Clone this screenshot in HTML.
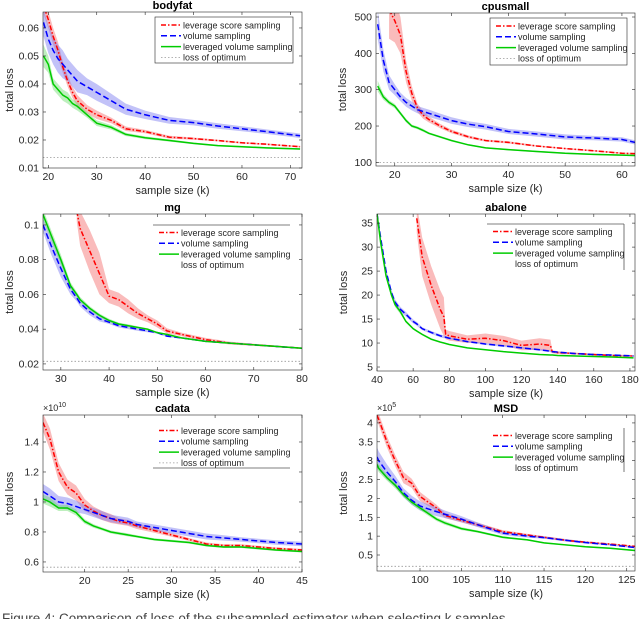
<!DOCTYPE html>
<html><head><meta charset="utf-8">
<style>
html,body{margin:0;padding:0;background:#fff;}
svg{display:block;font-family:"Liberation Sans",sans-serif;}
</style></head>
<body>
<svg id="fig" width="640" height="619" viewBox="0 0 640 619" xmlns="http://www.w3.org/2000/svg">
<text x="2" y="623" font-size="13.5" fill="#444">Figure 4: Comparison of loss of the subsampled estimator when selecting k samples</text>
</svg>
<script>
// ---- bodyfat ----
const bfX   = [19,20,21,22,23,24,25,26,28,30,33,36,40,45,50,55,60,65,72];
const bfLev = [0.068,0.063,0.057,0.052,0.046,0.041,0.037,0.034,0.031,0.029,0.027,0.024,0.023,0.021,0.0205,0.0198,0.019,0.0185,0.0176];
const bfVol = [0.062,0.056,0.052,0.049,0.047,0.045,0.043,0.041,0.039,0.037,0.034,0.031,0.029,0.027,0.0262,0.025,0.024,0.023,0.0215];
const bfLvs = [0.050,0.047,0.040,0.038,0.036,0.035,0.033,0.032,0.029,0.026,0.0245,0.022,0.0208,0.0198,0.0188,0.018,0.0176,0.0172,0.0168];
const bfLevB = [0.003,0.003,0.003,0.003,0.002,0.002,0.002,0.002,0.0015,0.0015,0.001,0.0008,0.0006,0.0005,0.0004,0.0003,0.0003,0.0003,0.0003];
const bfVolB = [0.005,0.005,0.005,0.005,0.005,0.004,0.004,0.004,0.003,0.003,0.0025,0.002,0.0015,0.0012,0.001,0.001,0.0009,0.0008,0.0008];
const bfLvsB = [0.004,0.003,0.002,0.002,0.002,0.002,0.0015,0.0015,0.001,0.001,0.0008,0.0006,0.0005,0.0004,0.0003,0.0003,0.0003,0.0003,0.0003];
const bfOpt = 0.0138;
const bfXTicks = [20,30,40,50,60,70];
const bfYTicks = [0.01,0.02,0.03,0.04,0.05,0.06];
// ---- cpusmall ----
const cpX   = [17,18,19,20,21,22,23,24,25,26,28,30,33,36,40,45,50,55,60,62.3];
const cpLev = [null,null,520,490,450,350,290,250,230,218,200,185,170,160,155,145,138,132,125,124];
const cpVol = [480,380,320,300,280,265,255,245,240,235,225,215,205,198,185,178,170,167,163,155];
const cpLvs = [310,280,265,255,235,215,200,195,188,180,170,160,148,140,135,130,125,122,120,119];
const cpLevB = [0,0,80,60,50,30,20,12,10,8,6,5,4,3,3,2,2,2,2,2];
const cpVolB = [40,30,20,15,12,12,12,10,10,10,9,9,8,8,7,7,7,6,6,6];
const cpLvsB = [15,8,6,6,5,5,4,4,4,3,3,3,2,2,2,2,2,2,2,2];
const cpOpt = 100;
const cpXTicks = [20,30,40,50,60];
const cpYTicks = [100,200,300,400,500];
// ---- mg ----
const mgX   = [26.3,28,30,32,33.3,34,36,38,40,42,44,46,48,50,52,55,60,65,70,75,80];
const mgLev = [null,null,null,null,0.108,0.098,0.085,0.072,0.059,0.057,0.053,0.049,0.046,0.043,0.039,0.037,0.034,0.032,0.031,0.030,0.029];
const mgVol = [0.100,0.088,0.075,0.063,0.058,0.055,0.050,0.046,0.044,0.042,0.041,0.040,0.039,0.038,0.036,0.035,0.033,0.032,0.031,0.030,0.029];
const mgLvs = [0.106,0.094,0.080,0.065,0.060,0.057,0.052,0.048,0.045,0.043,0.042,0.041,0.040,0.038,0.037,0.035,0.033,0.032,0.031,0.030,0.029];
const mgLevB = [0,0,0,0,0.006,0.01,0.012,0.012,0.004,0.004,0.004,0.003,0.002,0.002,0.0015,0.001,0.001,0.0008,0.0006,0.0005,0.0005];
const mgVolB = [0.004,0.005,0.005,0.003,0.002,0.002,0.002,0.0015,0.001,0.001,0.001,0.001,0.0008,0.0006,0.0005,0.0005,0.0004,0.0004,0.0003,0.0003,0.0003];
const mgLvsB = [0.003,0.003,0.003,0.002,0.0015,0.0015,0.0012,0.001,0.001,0.0008,0.0008,0.0006,0.0005,0.0005,0.0004,0.0004,0.0003,0.0003,0.0003,0.0003,0.0003];
const mgOpt = 0.0215;
const mgXTicks = [30,40,50,60,70,80];
const mgYTicks = [0.02,0.04,0.06,0.08,0.1];
// ---- abalone ----
const abX   = [40,42,45,48,50,53,56,60,62,65,70,75,77,78,80,90,100,110,120,130,136,137,140,150,160,170,182];
const abLev = [null,null,null,null,null,null,null,null,36,28,22,17,15.5,11.8,11.5,10.8,11,10.5,9.5,9.8,9.5,8.2,8,7.8,7.6,7.4,7.3];
const abVol = [37,32,25,20.5,18.5,17,16,14.5,14,13,12.2,11.5,11.3,11.2,11,10.3,9.8,9.4,9,8.6,8.3,8.2,8.1,7.8,7.6,7.5,7.3];
const abLvs = [37,31,24,20,18,16.5,14.5,13,12.5,11.8,10.8,10.2,10,9.9,9.7,9,8.6,8.2,7.9,7.6,7.5,7.5,7.4,7.3,7.2,7.1,6.9];
const abLevB = [0,0,0,0,0,0,0,0,3,4,4,4,4,1,1,0.8,1,1,1,1.2,1.2,0.3,0.3,0.2,0.2,0.2,0.2];
const abVolB = [0.4,0.5,0.5,0.6,0.6,0.5,0.5,0.4,0.4,0.3,0.3,0.3,0.3,0.2,0.2,0.2,0.2,0.2,0.2,0.2,0.2,0.2,0.1,0.1,0.1,0.1,0.1];
const abLvsB = [0.3,0.3,0.4,0.5,0.5,0.5,0.3,0.2,0.2,0.2,0.2,0.2,0.1,0.1,0.1,0.1,0.1,0.1,0.1,0.1,0.1,0.1,0.1,0.1,0.1,0.1,0.1];
const abOpt = 3;
const abXTicks = [40,60,80,100,120,140,160,180];
const abYTicks = [5,10,15,20,25,30,35];
// ---- cadata ----
const caX   = [15.2,16,17,18,19,20,21,22,23,24,25,26,28,30,32,34,36,38,40,42,45];
const caLev = [1.53,1.42,1.20,1.10,1.06,0.98,0.94,0.91,0.89,0.87,0.86,0.84,0.81,0.78,0.75,0.72,0.71,0.71,0.70,0.69,0.68];
const caVol = [1.07,1.04,1.00,0.99,0.97,0.95,0.93,0.91,0.89,0.88,0.87,0.85,0.83,0.81,0.79,0.77,0.76,0.75,0.74,0.73,0.72];
const caLvs = [1.02,1.00,0.96,0.96,0.93,0.87,0.84,0.82,0.80,0.79,0.78,0.77,0.75,0.74,0.73,0.71,0.70,0.70,0.69,0.68,0.67];
const caLevB = [0.06,0.07,0.06,0.05,0.05,0.04,0.03,0.03,0.03,0.02,0.02,0.02,0.015,0.012,0.01,0.01,0.008,0.008,0.008,0.007,0.007];
const caVolB = [0.05,0.05,0.04,0.04,0.04,0.03,0.03,0.03,0.025,0.025,0.025,0.02,0.02,0.02,0.02,0.02,0.018,0.015,0.015,0.015,0.015];
const caLvsB = [0.03,0.03,0.02,0.02,0.02,0.015,0.012,0.01,0.01,0.01,0.01,0.008,0.008,0.008,0.008,0.007,0.007,0.007,0.007,0.007,0.007];
const caOpt = 0.565;
const caXTicks = [20,25,30,35,40,45];
const caYTicks = [0.6,0.8,1,1.2,1.4];
// ---- MSD ----
const msX   = [94.8,95,96,97,98,99,100,101,102,103,105,107,110,113,115,118,120,123,126];
const msLev = [4.2,4.1,3.5,3.0,2.55,2.4,2.05,1.9,1.75,1.55,1.42,1.3,1.12,1.03,0.97,0.88,0.84,0.79,0.73];
const msVol = [3.1,3.0,2.7,2.45,2.15,1.95,1.8,1.72,1.65,1.58,1.45,1.3,1.08,1.0,0.96,0.88,0.83,0.77,0.7];
const msLvs = [2.9,2.8,2.55,2.35,2.1,1.9,1.75,1.6,1.45,1.35,1.2,1.12,0.97,0.9,0.82,0.76,0.72,0.68,0.62];
const msLevB = [0.15,0.15,0.15,0.15,0.15,0.12,0.12,0.1,0.08,0.07,0.06,0.05,0.04,0.03,0.03,0.03,0.02,0.02,0.02];
const msVolB = [0.25,0.25,0.2,0.15,0.12,0.12,0.12,0.12,0.12,0.1,0.08,0.06,0.05,0.04,0.03,0.03,0.03,0.02,0.02];
const msLvsB = [0.1,0.1,0.08,0.08,0.07,0.07,0.06,0.06,0.05,0.05,0.04,0.03,0.03,0.02,0.02,0.02,0.02,0.02,0.02];
const msOpt = 0.2;
const msXTicks = [100,105,110,115,120,125];
const msYTicks = [0.5,1,1.5,2,2.5,3,3.5,4];

const NS = "http://www.w3.org/2000/svg";
const svg = document.getElementById('fig');
function mk(tag, attrs, parent){
  const e = document.createElementNS(NS, tag);
  for (const k in attrs) e.setAttribute(k, attrs[k]);
  (parent||svg).appendChild(e);
  return e;
}
const panels = [
 {key:'bodyfat', title:'bodyfat', L:43,R:302,T:12,B:168, x0:18.9,x1:72.4, y0:0.01,y1:0.0657, X:bfX, lev:bfLev, vol:bfVol, lvs:bfLvs, levB:bfLevB, volB:bfVolB, lvsB:bfLvsB, opt:bfOpt, xt:bfXTicks, yt:bfYTicks, leg:'box', lg:[155,17,293,63]},
 {key:'cpusmall', title:'cpusmall', L:376,R:635,T:13,B:166, x0:16.7,x1:62.3, y0:90,y1:511, X:cpX, lev:cpLev, vol:cpVol, lvs:cpLvs, levB:cpLevB, volB:cpVolB, lvsB:cpLvsB, opt:cpOpt, xt:cpXTicks, yt:cpYTicks, leg:'box', lg:[490,18,627,65]},
 {key:'mg', title:'mg', L:43,R:302,T:214,B:370, x0:26.3,x1:80, y0:0.0165,y1:0.1063, X:mgX, lev:mgLev, vol:mgVol, lvs:mgLvs, levB:mgLevB, volB:mgVolB, lvsB:mgLvsB, opt:mgOpt, xt:mgXTicks, yt:mgYTicks, leg:'top', lg:[153,225,290,270]},
 {key:'abalone', title:'abalone', L:377,R:635,T:214,B:371, x0:40,x1:182.8, y0:4.17,y1:36.9, X:abX, lev:abLev, vol:abVol, lvs:abLvs, levB:abLevB, volB:abVolB, lvsB:abLvsB, opt:abOpt, xt:abXTicks, yt:abYTicks, leg:'topright', lg:[487,224,624,270]},
 {key:'cadata', title:'cadata', L:43,R:302,T:415,B:572, x0:15.2,x1:45, y0:0.533,y1:1.58, X:caX, lev:caLev, vol:caVol, lvs:caLvs, levB:caLevB, volB:caVolB, lvsB:caLvsB, opt:caOpt, xt:caXTicks, yt:caYTicks, leg:'bottom', lg:[153,424,290,468], exp:'10'},
 {key:'msd', title:'MSD', L:377,R:635,T:415,B:571, x0:94.8,x1:126, y0:0.076,y1:4.21, X:msX, lev:msLev, vol:msVol, lvs:msLvs, levB:msLevB, volB:msVolB, lvsB:msLvsB, opt:msOpt, xt:msXTicks, yt:msYTicks, leg:'right', lg:[487,428,624,472], exp:'5'}
];
function fmt(v){ return String(+v.toFixed(4)); }
panels.forEach(p=>{
  const g = mk('g',{});
  
  
  const sx = v => p.L + (v-p.x0)/(p.x1-p.x0)*(p.R-p.L);
  const sy = v => p.B - (v-p.y0)/(p.y1-p.y0)*(p.B-p.T);
  const cid = 'clip-'+p.key;
  const cp = mk('clipPath',{id:cid},g);
  mk('rect',{x:p.L,y:p.T,width:p.R-p.L,height:p.B-p.T},cp);
  const plot = mk('g',{'clip-path':'url(#'+cid+')'},g);
  const ol = mk('line',{x1:p.L,x2:p.R,y1:sy(p.opt),y2:sy(p.opt),stroke:'#999','stroke-width':0.8,'stroke-dasharray':'1.5,2'},plot);
  
  
  const series = [
    {name:'leverage', vals:p.lev, band:p.levB, col:'#f00', fill:'rgba(245,120,120,0.5)', dash:'5,2,1.5,2'},
    {name:'volume', vals:p.vol, band:p.volB, col:'#00f', fill:'rgba(120,120,240,0.45)', dash:'6,3'},
    {name:'leveraged-volume', vals:p.lvs, band:p.lvsB, col:'#0c0', fill:'rgba(110,220,110,0.45)', dash:''}
  ];
  series.forEach(s=>{
    const idx = p.X.map((x,i)=>i).filter(i=>s.vals[i]!==null);
    let up = idx.map(i=>sx(p.X[i])+','+sy(s.vals[i]+s.band[i]));
    let dn = idx.slice().reverse().map(i=>sx(p.X[i])+','+sy(s.vals[i]-s.band[i]));
    const b = mk('polygon',{points:up.concat(dn).join(' '),fill:s.fill,stroke:'none'},plot);
    
    
  });
  series.forEach(s=>{
    const idx = p.X.map((x,i)=>i).filter(i=>s.vals[i]!==null);
    const pts = idx.map(i=>sx(p.X[i])+','+sy(s.vals[i])).join(' ');
    const l = mk('polyline',{points:pts,fill:'none',stroke:s.col,'stroke-width':1.5,'stroke-dasharray':s.dash},plot);
    
    
  });
  mk('rect',{x:p.L,y:p.T,width:p.R-p.L,height:p.B-p.T,fill:'none',stroke:'#262626','stroke-width':0.6},g);
  p.xt.forEach(t=>{
    const x = sx(t);
    mk('line',{x1:x,x2:x,y1:p.B,y2:p.B-3,stroke:'#262626','stroke-width':0.6},g);
    mk('line',{x1:x,x2:x,y1:p.T,y2:p.T+3,stroke:'#262626','stroke-width':0.6},g);
    const tx = mk('text',{x:x,y:p.B+12,'font-size':10.5,'text-anchor':'middle',fill:'#262626'},g);
    tx.textContent = fmt(t);
    
    
  });
  p.yt.forEach(t=>{
    const y = sy(t);
    mk('line',{x1:p.L,x2:p.L+3,y1:y,y2:y,stroke:'#262626','stroke-width':0.6},g);
    mk('line',{x1:p.R,x2:p.R-3,y1:y,y2:y,stroke:'#262626','stroke-width':0.6},g);
    const ty = mk('text',{x:p.L-4,y:y+3.5,'font-size':10.5,'text-anchor':'end',fill:'#262626'},g);
    ty.textContent = fmt(t);
    
    
  });
  if (p.exp){
    const e = mk('text',{x:p.L,y:p.T-4,'font-size':9,fill:'#262626'},g);
    e.innerHTML = '×10<tspan dy="-4" font-size="7">'+p.exp+'</tspan>';
    
    
  }
  const tt = mk('text',{x:(p.L+p.R)/2,y:p.T-3,'font-size':11,'font-weight':'bold','text-anchor':'middle',fill:'#000'},g);
  tt.textContent = p.title;
  
  
  const xl = mk('text',{x:(p.L+p.R)/2,y:p.B+26,'font-size':11,'text-anchor':'middle',fill:'#262626'},g);
  xl.textContent = 'sample size (k)';
  
  
  const yl = mk('text',{x:0,y:0,'font-size':11,'text-anchor':'middle',fill:'#262626',transform:'translate('+(p.L-30)+','+((p.T+p.B)/2)+') rotate(-90)'},g);
  yl.textContent = 'total loss';
  
  
  const [lx0,ly0,lx1,ly1] = p.lg;
  const lg = mk('g',{},g);
  
  
  if (p.leg==='box') mk('rect',{x:lx0,y:ly0,width:lx1-lx0,height:ly1-ly0,fill:'#fff',stroke:'#262626','stroke-width':0.6},lg);
  if (p.leg==='top'||p.leg==='topright') mk('line',{x1:lx0,x2:lx1,y1:ly0,y2:ly0,stroke:'#555','stroke-width':0.8},lg);
  if (p.leg==='topright'||p.leg==='right') mk('line',{x1:lx1,x2:lx1,y1:ly0,y2:ly1,stroke:'#555','stroke-width':0.8},lg);
  if (p.leg==='bottom') mk('line',{x1:lx0,x2:lx1,y1:ly1,y2:ly1,stroke:'#555','stroke-width':0.8},lg);
  const entries = [
    ['leverage score sampling','#f00','5,2,1.5,2',1.5],
    ['volume sampling','#00f','6,3',1.5],
    ['leveraged volume sampling','#0c0','',1.5],
    ['loss of optimum','#999','1.5,2',0.8]
  ];
  const noLine4 = (p.leg!=='box' && p.key!=='cadata');
  const oy = (p.leg==='box') ? ly0+8 : ly0+7.5 + (p.leg==='bottom'?-1:0);
  entries.forEach((en,i)=>{
    const y = oy + i*10.8;
    if (!(i===3 && noLine4)) mk('line',{x1:lx0+6,x2:lx0+26,y1:y,y2:y,stroke:en[1],'stroke-width':en[3],'stroke-dasharray':en[2]},lg);
    const t = mk('text',{x:lx0+28,y:y+3.3,'font-size':9,fill:'#262626'},lg);
    t.textContent = en[0];
    
    
  });
});
</script>
</body></html>
